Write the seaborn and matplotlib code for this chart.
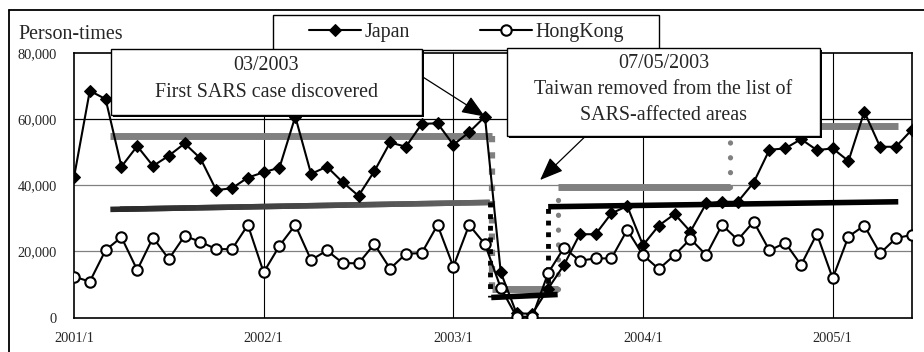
import numpy as np
import pandas as pd
import matplotlib
matplotlib.use("Agg")
import matplotlib.pyplot as plt
import seaborn as sns
from matplotlib.patches import Rectangle
from matplotlib.lines import Line2D
from matplotlib.collections import LineCollection
from matplotlib.ticker import FuncFormatter

# Monthly visitor arrivals (person-times), 2001/1 .. 2005/6
japan = [42400, 68500, 66000, 45600, 51800, 45800, 48900, 52600, 48100, 38500, 39100, 42300,
         43900, 45300, 60700, 43400, 45600, 40900, 36800, 44200, 52900, 51600, 58500, 58700,
         52200, 56000, 60700, 13700, 1300, 1200, 8800, 15900, 25200, 25200, 31500, 33700,
         21900, 27800, 31300, 26000, 34500, 35000, 35000, 40800, 50700, 51100, 53900, 50600,
         51100, 47300, 62200, 51600, 51600, 56700]
hongkong = [12400, 10900, 20400, 24300, 14400, 24200, 17700, 24700, 22900, 20700, 20700, 28000,
            13700, 21700, 28000, 17400, 20300, 16500, 16400, 22200, 14800, 19300, 19500, 28000,
            15400, 28000, 22200, 9000, 300, 300, 13500, 21100, 17200, 17900, 17900, 26500,
            18900, 14700, 18900, 23800, 18900, 28000, 23500, 29000, 20300, 22600, 15900, 25300,
            11900, 24500, 27800, 19400, 24000, 25000]
year_ticks = [0, 12, 24, 36, 48]
year_labels = ["2001/1", "2002/1", "2003/1", "2004/1", "2005/1"]
y_ticks = [0, 20000, 40000, 60000, 80000]

# Period averages for Japan: (start month, end month, level)
mean_levels = [(2.3, 26.45, 55000), (26.45, 30.6, 8600), (30.6, 41.5, 39400), (41.5, 52.15, 57900)]
# Period trends for Hong Kong: (start month, end month, start level, end level)
trend_levels = [(2.3, 26.3, 32700, 34800), (26.4, 30.6, 6100, 7000), (30.0, 52.15, 33500, 35000)]

sns.set_style("white")
plt.rcParams["font.family"] = ["Liberation Serif", "DejaVu Serif"]

W, H = 924, 352
fig = plt.figure(figsize=(W / 100, H / 100), dpi=100)


def fx(px):
    return px / W


def fy(py):
    return 1 - py / H


ax = fig.add_axes([fx(74), fy(317.7), fx(911.7) - fx(74), fy(52.7) - fy(317.7)])

df = pd.DataFrame({"month": np.arange(len(japan)), "Japan": japan, "HongKong": hongkong})

# gridlines
for yv, c in [(20000, "#808080"), (40000, "#808080"), (60000, "black")]:
    ax.axhline(yv, color=c, lw=0.9, zorder=0.5)
for xv in year_ticks[1:]:
    ax.axvline(xv, color="black", lw=0.8, zorder=0.5)

gray = "#808080"
# period averages (thick gray steps)
for x0, x1, lv in mean_levels:
    ax.plot([x0, x1], [lv, lv], color=gray, lw=5, solid_capstyle="butt", zorder=3)
ax.plot([26.45, 26.45], [mean_levels[0][2], mean_levels[1][2]], color=gray, lw=4.5,
        linestyle=(0, (1, 1.6)), dash_capstyle="butt", zorder=3)
ax.plot([30.6, 30.6], [mean_levels[1][2], mean_levels[2][2]], color=gray, lw=3.8,
        linestyle=(0, (0.01, 2.8)), dash_capstyle="round", zorder=3)
ax.plot([41.5, 41.5], [mean_levels[2][2], mean_levels[3][2]], color=gray, lw=3.8,
        linestyle=(0, (0.01, 2.8)), dash_capstyle="round", zorder=3)

# trend lines (first one shaded dark to lighter, overlapping pieces avoid seams)
x0, x1, y0, y1 = trend_levels[0]
n = 40
xs = np.linspace(x0, x1, n + 1)
ys = np.linspace(y0, y1, n + 1)
ends = np.minimum(np.arange(n) + 2, n)
segs = np.stack([np.column_stack([xs[:-1], ys[:-1]]), np.column_stack([xs[ends], ys[ends]])], axis=1)
cols = plt.cm.gray(np.linspace(0.16, 0.40, n))
ax.add_collection(LineCollection(segs, colors=cols, linewidths=4, capstyle="butt", zorder=3))
for x0, x1, y0, y1 in trend_levels[1:]:
    ax.plot([x0, x1], [y0, y1], color="black", lw=4, solid_capstyle="butt", zorder=3)
ax.plot([26.3, 26.3], [trend_levels[0][3], trend_levels[1][2]], color="black", lw=3.5,
        linestyle=(0, (1, 1.4)), dash_capstyle="butt", zorder=3)
ax.plot([30.0, 30.0], [trend_levels[1][3], trend_levels[2][2]], color="black", lw=3.5,
        linestyle=(0, (1, 1.4)), dash_capstyle="butt", zorder=3)

# series
sns.lineplot(data=df, x="month", y="Japan", ax=ax, color="black", lw=1.5, marker="D",
             markersize=6, markerfacecolor="black", markeredgecolor="black",
             label="Japan", zorder=5)
sns.lineplot(data=df, x="month", y="HongKong", ax=ax, color="black", lw=1.5, marker="o",
             markersize=7.5, markerfacecolor="white", markeredgecolor="black",
             markeredgewidth=1.5, label="HongKong", zorder=6)

ax.set_xlim(0, len(japan) - 1)
ax.set_ylim(0, 80000)
ax.set_xticks(year_ticks)
ax.set_xticklabels(year_labels)
ax.set_yticks(y_ticks)
ax.yaxis.set_major_formatter(FuncFormatter(lambda v, p: f"{int(v):,}"))
ax.tick_params(axis="x", length=0, labelsize=10.4, pad=10.3)
ax.tick_params(axis="y", length=0, labelsize=10.4, pad=12.2)
ax.set_xlabel("")
ax.set_ylabel("")
for s in ax.spines.values():
    s.set_visible(True)
    s.set_color("black")
    s.set_linewidth(1.2)
ax.set_facecolor("white")

# legend
ax.legend(loc="center", bbox_to_anchor=(fx(466.5), fy(32)), bbox_transform=fig.transFigure,
          ncol=2, frameon=False, fontsize=14.4, handlelength=2.6, handletextpad=0.15,
          columnspacing=3.55, borderpad=0, borderaxespad=0)
fig.patches.append(Rectangle((fx(272.7), fy(50)), fx(659.3) - fx(272.7), fy(15) - fy(50),
                             transform=fig.transFigure, facecolor="none", edgecolor="black",
                             lw=1.0, zorder=1))

fig.text(fx(18), fy(39.3), "Person-times", fontsize=14.4, ha="left", va="baseline")

# outer chart frame (left and top edges)
fig.lines.append(Line2D([fx(9.3), fx(9.3)], [0, fy(10)], transform=fig.transFigure,
                        color="black", lw=1.3))
fig.lines.append(Line2D([fx(9.3), 1], [fy(10), fy(10)], transform=fig.transFigure,
                        color="black", lw=1.3))


def note_box(x0, y0, x1, y1, lines, baselines):
    w = fx(x1) - fx(x0)
    h = fy(y0) - fy(y1)
    fig.patches.append(Rectangle((fx(x0) + 2 / W, fy(y1) - 2 / H), w, h, transform=fig.transFigure,
                                 facecolor="black", edgecolor="none", zorder=4))
    fig.patches.append(Rectangle((fx(x0), fy(y1)), w, h, transform=fig.transFigure,
                                 facecolor="white", edgecolor="black", lw=1.0, zorder=5))
    cx = (x0 + x1) / 2
    for t, b in zip(lines, baselines):
        fig.text(fx(cx), fy(b), t, fontsize=14.4, ha="center", va="baseline", zorder=6)


note_box(111, 49.3, 421.7, 115, ["03/2003", "First SARS case discovered"], [70, 96.7])
note_box(506.7, 48.3, 820, 135.7,
         ["07/05/2003", "Taiwan removed from the list of", "SARS-affected areas"],
         [68.3, 94, 120])

arrow = dict(arrowstyle="-|>,head_length=0.8,head_width=0.32", color="black", lw=0.9,
             shrinkA=0, shrinkB=0, mutation_scale=18)
ax.annotate("", xy=(26, japan[26]), xycoords="data", xytext=(fx(423.3), fy(77.3)),
            textcoords="figure fraction", arrowprops=arrow, annotation_clip=False, zorder=4)
ax.annotate("", xy=(29.49, 41570), xycoords="data", xytext=(fx(586), fy(135.7)),
            textcoords="figure fraction", arrowprops=arrow, annotation_clip=False, zorder=4)

fig.savefig("out.png", dpi=100, facecolor="white")
